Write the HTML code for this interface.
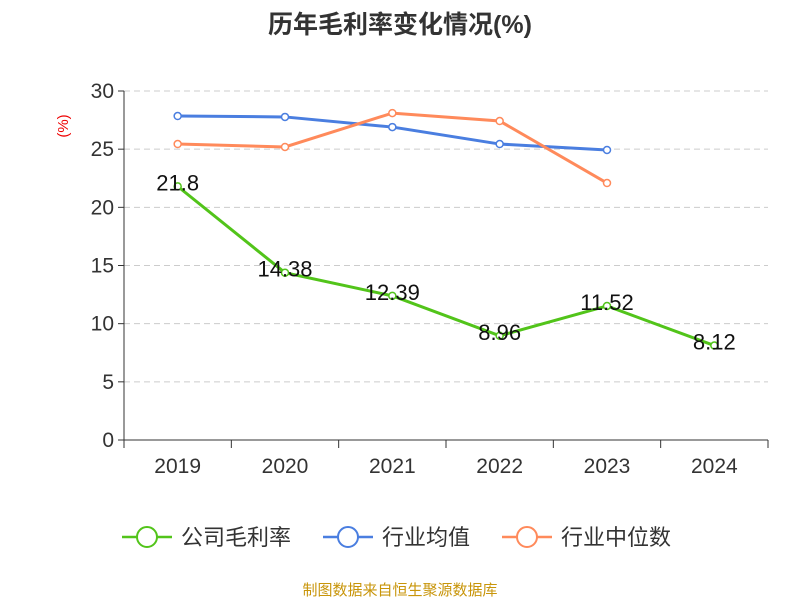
<!DOCTYPE html>
<html><head><meta charset="utf-8"><style>
body{margin:0;background:#fff;}
svg text{font-family:"Liberation Sans","Noto Sans CJK SC",sans-serif;}
</style></head><body>
<svg id="chart" width="800" height="600" xmlns="http://www.w3.org/2000/svg">
<text x="400" y="33" text-anchor="middle" font-size="25" font-weight="bold" fill="#333">历年毛利率变化情况(%)</text>
<text x="68" y="126" text-anchor="middle" font-size="15" fill="#e00" transform="rotate(-90 68 126)">(%)</text>
<g id="grid"></g><g id="axes"></g><g id="series"></g>
<g>
<g><line x1="122" y1="537" x2="172" y2="537" stroke="#52c41a" stroke-width="2.5"/><circle cx="147" cy="537" r="10" fill="#fff" stroke="#52c41a" stroke-width="2"/><text x="181" y="545" font-size="22" fill="#333">公司毛利率</text></g>
<g><line x1="323" y1="537" x2="373" y2="537" stroke="#4a7ee0" stroke-width="2.5"/><circle cx="348" cy="537" r="10" fill="#fff" stroke="#4a7ee0" stroke-width="2"/><text x="382" y="545" font-size="22" fill="#333">行业均值</text></g>
<g><line x1="502" y1="537" x2="552" y2="537" stroke="#ff8a5b" stroke-width="2.5"/><circle cx="527" cy="537" r="10" fill="#fff" stroke="#ff8a5b" stroke-width="2"/><text x="561" y="545" font-size="22" fill="#333">行业中位数</text></g>
</g>
<text x="400" y="595" text-anchor="middle" font-size="15" fill="#c8950a">制图数据来自恒生聚源数据库</text>
</svg>
<script>
const categories=["2019","2020","2021","2022","2023","2024"];
const yTicks=[0,5,10,15,20,25,30];
const company=[21.8,14.38,12.39,8.96,11.52,8.12];
const companyLabels=["21.8","14.38","12.39","8.96","11.52","8.12"];
const industryAvg=[27.85,27.77,26.9,25.44,24.93,null];
const industryMedian=[25.44,25.19,28.1,27.42,22.09,null];
const NS="http://www.w3.org/2000/svg";
const x0=124,x1=768,yBase=440,yTop=91;
const bw=(x1-x0)/categories.length;
const X=i=>x0+bw*(i+0.5);
const Y=v=>yBase-(v/30)*(yBase-yTop);
function mk(tag,attrs,parent,txt){const e=document.createElementNS(NS,tag);for(const k in attrs)e.setAttribute(k,attrs[k]);if(txt!==undefined)e.textContent=txt;parent.appendChild(e);return e;}
const grid=document.getElementById('grid'),axes=document.getElementById('axes'),ser=document.getElementById('series');
yTicks.forEach(t=>{
 if(t>0){const l=mk('line',{x1:x0,x2:x1,y1:Y(t),y2:Y(t),stroke:'#ccc','stroke-dasharray':'6,4'},grid);
 
 }
 mk('line',{x1:x0-6,x2:x0,y1:Y(t),y2:Y(t),stroke:'#333'},axes);
 const tx=mk('text',{x:x0-10,y:Y(t)+7,'text-anchor':'end','font-size':21,fill:'#333'},axes,String(t));
 
 
});
mk('line',{x1:x0,x2:x0,y1:yTop,y2:yBase,stroke:'#333'},axes);
mk('line',{x1:x0,x2:x1,y1:yBase,y2:yBase,stroke:'#333'},axes);
for(let i=0;i<=categories.length;i++)mk('line',{x1:x0+bw*i,x2:x0+bw*i,y1:yBase,y2:yBase+8,stroke:'#333'},axes);
categories.forEach((c,i)=>{const t=mk('text',{x:X(i),y:yBase+33,'text-anchor':'middle','font-size':21,fill:'#333'},axes,c);
 
 });
function drawLine(data,color,name){
 const g=mk('g',{},ser);
 
 
 const pts=[];data.forEach((v,i)=>{if(v!==null)pts.push([X(i),Y(v)]);});
 mk('polyline',{points:pts.map(p=>p.join(',')).join(' '),fill:'none',stroke:color,'stroke-width':3},g);
 pts.forEach(p=>{const c=mk('circle',{cx:p[0],cy:p[1],r:3.5,fill:'#fff',stroke:color,'stroke-width':1.5},g);
 
 });
 return g;
}
drawLine(industryAvg,'#4a7ee0','industry-avg-line');
drawLine(industryMedian,'#ff8a5b','industry-median-line');
const cg=drawLine(company,'#52c41a','company-line');
company.forEach((v,i)=>{const t=mk('text',{x:X(i),y:Y(v)+4,'text-anchor':'middle','font-size':22,fill:'#111'},cg,companyLabels[i]);
 
 });
</script>
</body></html>
